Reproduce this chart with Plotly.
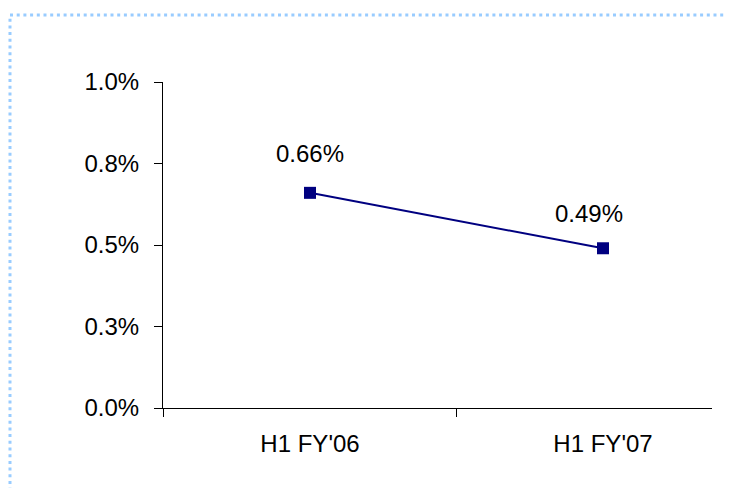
import plotly.graph_objects as go

categories = ["H1 FY'06", "H1 FY'07"]
values = [0.66, 0.49]
labels = ["0.66%", "0.49%"]
y_tickvals = [0.0, 0.25, 0.5, 0.75, 1.0]
y_ticktext = ["0.0%", "0.3%", "0.5%", "0.8%", "1.0%"]

# label placement offsets (pixels), styling only
label_style = [dict(xshift=0, yshift=39), dict(xshift=-14, yshift=35)]

xpos = list(range(len(categories)))
FONT = "Liberation Sans, Arial, sans-serif"

fig = go.Figure()
fig.add_trace(go.Scatter(
    x=xpos, y=values, mode="lines+markers",
    line=dict(color="#000080", width=2),
    marker=dict(symbol="square", size=12, color="#000080"),
    hoverinfo="skip", showlegend=False,
))

for xv, yv, t, st in zip(xpos, values, labels, label_style):
    fig.add_annotation(x=xv, y=yv, text=t, showarrow=False,
                       xshift=st["xshift"], yshift=st["yshift"],
                       font=dict(family=FONT, size=24, color="black"))

fig.add_shape(type="rect", xref="paper", yref="paper",
              x0=-0.2787, x1=1.2, y0=-0.4, y1=1.2055,
              line=dict(color="#99ccff", width=3, dash="3px,3.7px"),
              fillcolor="rgba(0,0,0,0)", layer="below")

fig.update_layout(
    width=726, height=480,
    margin=dict(l=155, r=22, t=74, b=80),
    paper_bgcolor="white", plot_bgcolor="white",
    font=dict(family=FONT, size=24, color="black"),
    xaxis=dict(
        range=[-0.5017, 1.372], tickvals=xpos, ticktext=categories,
        ticks="", showgrid=False, zeroline=False,
        showline=True, linecolor="black", linewidth=1,
        ticklabelstandoff=14,
        minor=dict(tick0=-0.5, dtick=1, ticks="outside", ticklen=8,
                   tickcolor="black", showgrid=False),
    ),
    yaxis=dict(
        range=[0, 1.0], tickvals=y_tickvals, ticktext=y_ticktext,
        ticks="outside", ticklen=8, tickcolor="black",
        showgrid=False, zeroline=False,
        showline=True, linecolor="black", linewidth=1,
        ticklabelstandoff=10,
    ),
)

fig.write_html("out.html")
